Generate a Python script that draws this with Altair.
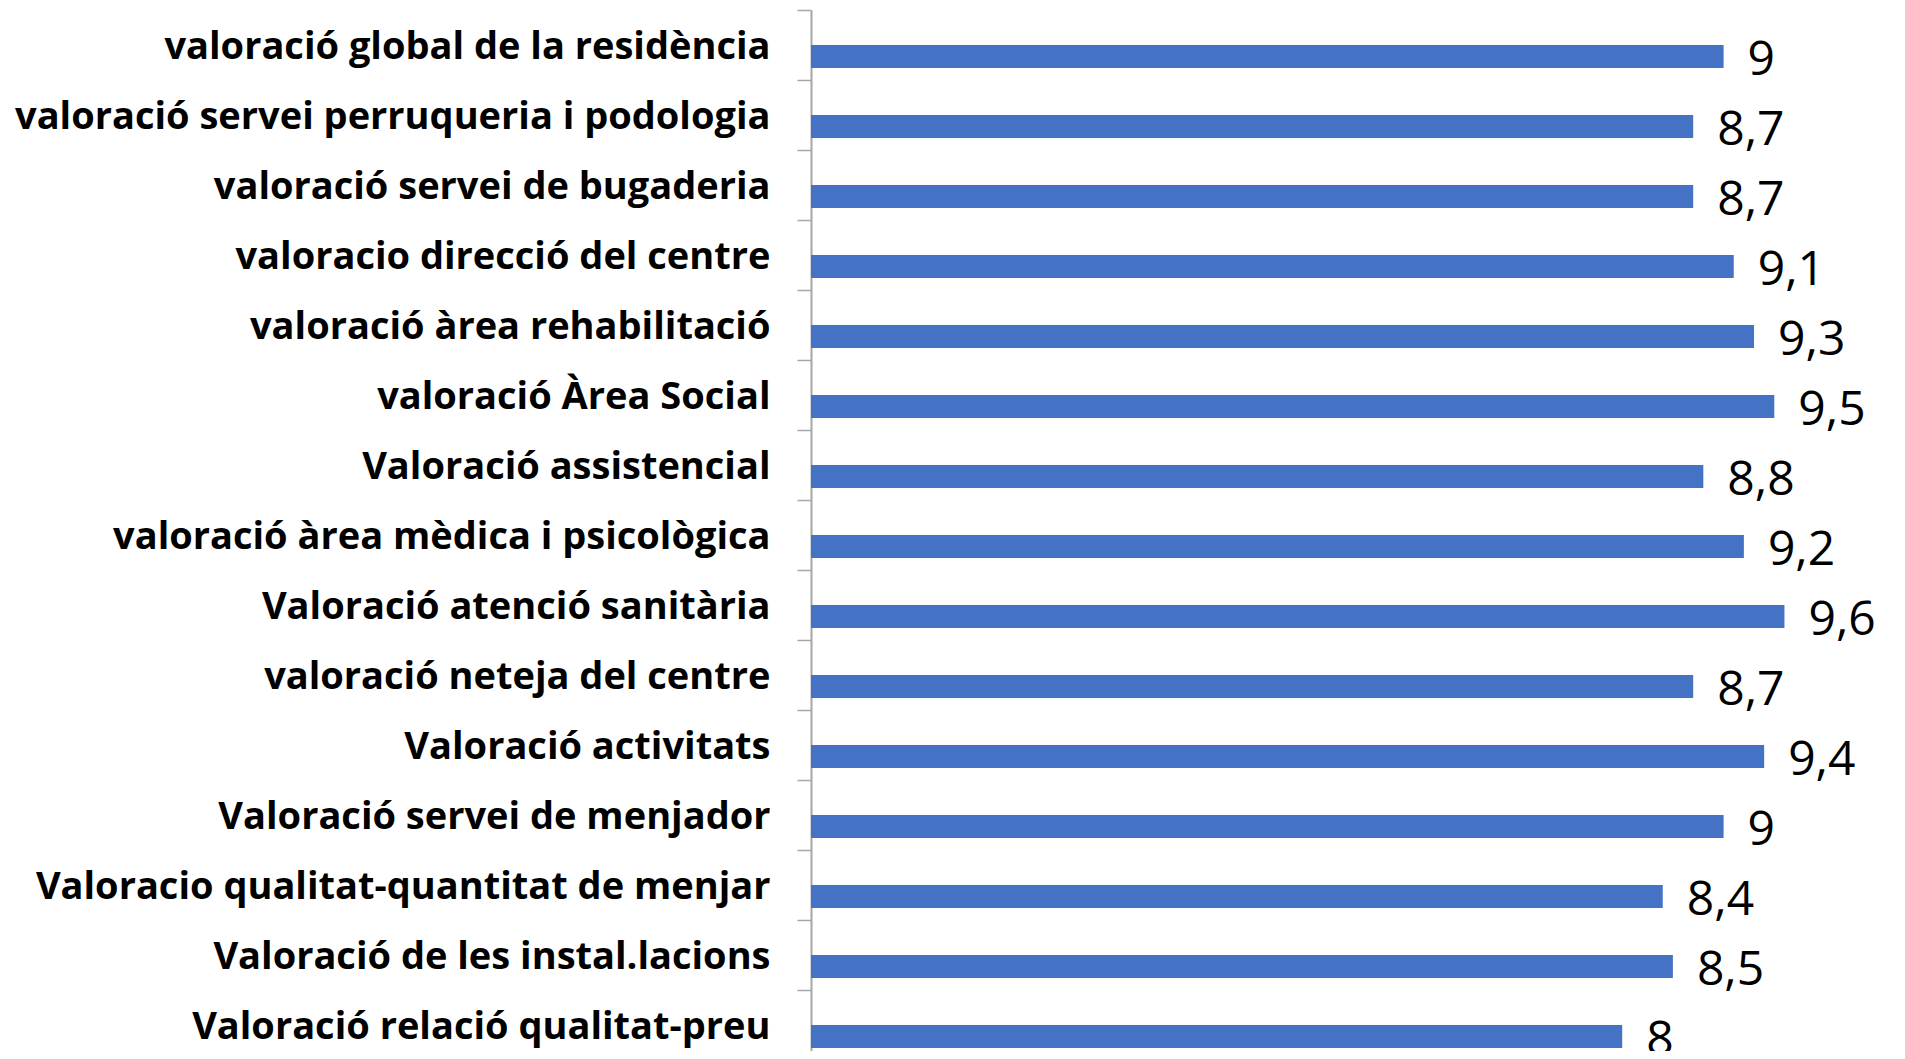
import altair as alt
import pandas as pd

categories = [
    "valoració global de la residència",
    "valoració servei perruqueria i podologia",
    "valoració servei de bugaderia",
    "valoracio direcció del centre",
    "valoració àrea rehabilitació",
    "valoració Àrea Social",
    "Valoració assistencial",
    "valoració àrea mèdica i psicològica",
    "Valoració atenció sanitària",
    "valoració neteja del centre",
    "Valoració activitats",
    "Valoració servei de menjador",
    "Valoracio qualitat-quantitat de menjar",
    "Valoració de les instal.lacions",
    "Valoració relació qualitat-preu",
]
values = [9, 8.7, 8.7, 9.1, 9.3, 9.5, 8.8, 9.2, 9.6, 8.7, 9.4, 9, 8.4, 8.5, 8]

df = pd.DataFrame({"cat": categories, "value": values})
df["label"] = [(f"{v:g}").replace(".", ",") for v in values]

y = alt.Y(
    "cat:N",
    sort=categories,
    title=None,
    scale=alt.Scale(range=[0, 1050], paddingInner=0, paddingOuter=0),
    axis=alt.Axis(
        tickBand="extent",
        tickSize=14,
        tickColor="#a6a6a6",
        tickWidth=1.5,
        domainColor="#a6a6a6",
        domainWidth=2,
        labelFont="Open Sans",
        labelFontWeight="bold",
        labelFontSize=38,
        labelColor="#000000",
        labelPadding=27,
        labelOffset=2,
        labelLimit=1000,
        grid=False,
    ),
)
x = alt.X("value:Q", scale=alt.Scale(domain=[0, 10]), axis=None)

bars = alt.Chart(df).mark_bar(color="#4472C4", height=23, yOffset=11.5).encode(y=y, x=x)
text = alt.Chart(df).mark_text(
    align="left", baseline="middle", dx=24, dy=16, font="Open Sans", fontSize=48, color="#000000"
).encode(y=y, x=x, text="label:N")

chart = (
    alt.layer(bars, text)
    .properties(
        width=1014,
        height=1041,
        background="white",
        autosize=alt.AutoSizeParams(type="none"),
        padding={"left": 803, "top": 2, "right": 70, "bottom": 0},
    )
    .configure_view(strokeWidth=0, stroke="transparent")
)

chart.save("out.html", embed_options={"renderer": "svg", "actions": False})
